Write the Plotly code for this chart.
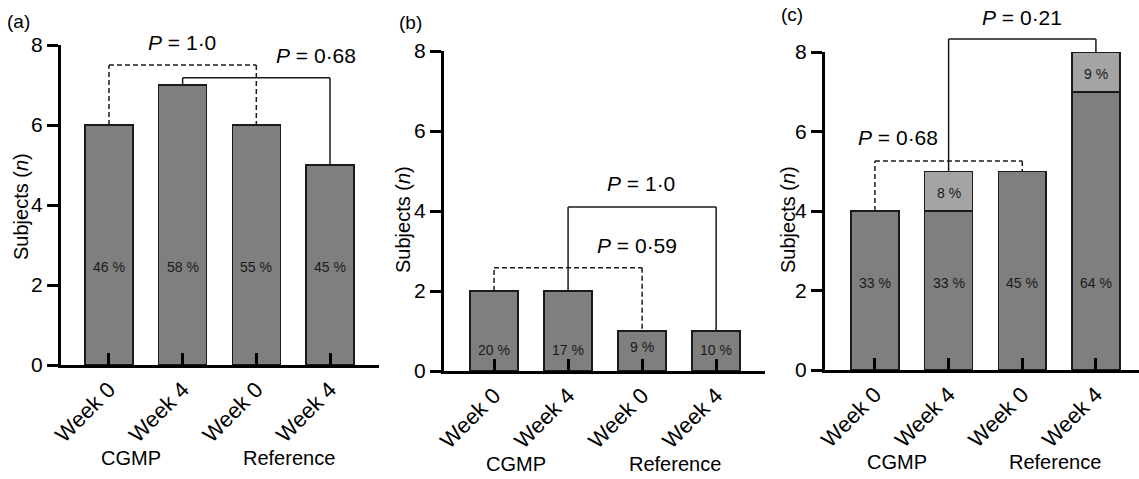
import plotly.graph_objects as go

W, H = 1139, 479
FONT = "Liberation Sans, Arial, sans-serif"

# ---------------- data ----------------
weeks = ["Week 0", "Week 4", "Week 0", "Week 4"]
groups = ["CGMP", "Reference"]
xpos = [0, 1, 2, 3]

a_vals = [6, 7, 6, 5]
a_pct = ["46 %", "58 %", "55 %", "45 %"]

b_vals = [2, 2, 1, 1]
b_pct = ["20 %", "17 %", "9 %", "10 %"]

c_dark = [4, 4, 5, 7]
c_light = [0, 1, 0, 1]
c_dark_pct = ["33 %", "33 %", "45 %", "64 %"]
c_light_pct = ["", "8 %", "", "9 %"]

# comparisons: (bar i, bar j, P label, dashed?)
a_comp = [(0, 2, "1·0", True), (1, 3, "0·68", False)]
b_comp = [(0, 2, "0·59", True), (1, 3, "1·0", False)]
c_comp = [(0, 2, "0·68", True), (1, 3, "0·21", False)]

# ---------------- layout helpers ----------------
YMAX = 8
DARK = "#7f7f7f"
LIGHT = "#a4a4a4"
EDGE = "#1a1a1a"


def px_dom(x0, x1):
    return [x0 / W, x1 / W]


def py_dom(y_bottom, y_top):
    return [1 - y_bottom / H, 1 - y_top / H]


panels = [
    dict(label="(a)", xd=px_dom(61, 379), yd=py_dom(365, 45), xr=[-0.651, 3.665],
         lab_xy=(18, 22), ytitle_xy=(21, 207)),
    dict(label="(b)", xd=px_dom(444, 765), yd=py_dom(371, 51), xr=[-0.676, 3.66],
         lab_xy=(410, 23), ytitle_xy=(403, 220)),
    dict(label="(c)", xd=px_dom(825, 1139), yd=py_dom(370, 52), xr=[-0.678, 3.585],
         lab_xy=(792, 15), ytitle_xy=(788, 220)),
]

fig = go.Figure()

bar_common = dict(width=0.65, marker=dict(line=dict(color=EDGE, width=1.5)),
                  showlegend=False, hoverinfo="skip")

fig.add_trace(go.Bar(x=xpos, y=a_vals, marker_color=DARK, xaxis="x", yaxis="y", **bar_common))
fig.add_trace(go.Bar(x=xpos, y=b_vals, marker_color=DARK, xaxis="x2", yaxis="y2", **bar_common))
fig.add_trace(go.Bar(x=xpos, y=c_dark, marker_color=DARK, xaxis="x3", yaxis="y3", **bar_common))
fig.add_trace(go.Bar(x=xpos, y=c_light, marker_color=LIGHT, xaxis="x3", yaxis="y3", **bar_common))

layout = dict(
    width=W, height=H, autosize=False,
    margin=dict(l=0, r=0, t=0, b=0, pad=0),
    paper_bgcolor="white", plot_bgcolor="white",
    barmode="stack",
    font=dict(family=FONT, size=20, color="black"),
    showlegend=False,
    hovermode=False,
)

annotations = []
shapes = []

for i, p in enumerate(panels):
    sfx = "" if i == 0 else str(i + 1)
    xa, ya = "xaxis" + sfx, "yaxis" + sfx
    xr, yr = "x" + sfx, "y" + sfx
    layout[xa] = dict(
        domain=p["xd"], range=p["xr"], anchor=yr, automargin=False,
        tickmode="array", tickvals=xpos, ticktext=weeks, tickangle=-45,
        ticks="inside", ticklen=12, tickwidth=3, tickcolor="black",
        showline=True, linewidth=3, linecolor="black",
        showgrid=False, zeroline=False,
        tickfont=dict(family=FONT, size=22, color="black"),
        fixedrange=True,
    )
    layout[ya] = dict(
        domain=p["yd"], range=[0, YMAX], anchor=xr, automargin=False,
        tickmode="array", tickvals=[0, 2, 4, 6, 8],
        ticks="outside", ticklen=11, tickwidth=3, tickcolor="black",
        showline=True, linewidth=3, linecolor="black",
        showgrid=False, zeroline=False,
        tickfont=dict(family=FONT, size=21, color="black"),
        fixedrange=True,
    )
    annotations.append(dict(text=p["label"], xref="paper", yref="paper",
                            x=p["lab_xy"][0] / W, y=1 - p["lab_xy"][1] / H,
                            xanchor="center", yanchor="middle", showarrow=False,
                            font=dict(family=FONT, size=19, color="black")))
    annotations.append(dict(text="Subjects (<i>n</i>)", xref="paper", yref="paper",
                            x=p["ytitle_xy"][0] / W, y=1 - p["ytitle_xy"][1] / H,
                            xanchor="center", yanchor="middle", showarrow=False, textangle=-90,
                            font=dict(family=FONT, size=20, color="black")))
    for gx, g in zip([0.3, 2.44], groups):
        annotations.append(dict(text=g, xref=xr, yref=yr + " domain", x=gx, y=-0.29,
                                xanchor="center", yanchor="middle", showarrow=False,
                                font=dict(family=FONT, size=20, color="black")))


def pct_labels(xr, yr, texts, ys):
    for x, t, y in zip(xpos, texts, ys):
        if t:
            annotations.append(dict(text=t, xref=xr, yref=yr, x=x, y=y,
                                    xanchor="center", yanchor="middle", showarrow=False,
                                    font=dict(family=FONT, size=14, color="#1a1a1a")))


pct_labels("x", "y", a_pct, [2.45] * 4)
pct_labels("x2", "y2", b_pct, [0.52, 0.52, 0.6, 0.52])
pct_labels("x3", "y3", c_dark_pct, [2.19] * 4)
c_tot = [d + l for d, l in zip(c_dark, c_light)]
pct_labels("x3", "y3", c_light_pct, [d + 0.45 for d in c_dark])


def bracket(xr, yr, tops, comp, level, ptxt_xy):
    i, j, ptxt, dashed = comp
    dash = "5px,3px" if dashed else "solid"
    line = dict(color="#1a1a1a", width=1.5, dash=dash)
    yd = yr + " domain"
    for (x0, y0, x1, y1) in [(xpos[i], tops[i], xpos[i], level),
                             (xpos[i], level, xpos[j], level),
                             (xpos[j], level, xpos[j], tops[j])]:
        shapes.append(dict(type="line", xref=xr, yref=yd,
                           x0=x0, x1=x1, y0=y0 / YMAX, y1=y1 / YMAX, line=line, layer="above"))
    annotations.append(dict(text="<i>P</i> = " + ptxt, xref=xr, yref=yd,
                            x=ptxt_xy[0], y=ptxt_xy[1] / YMAX, xanchor="center", yanchor="middle",
                            showarrow=False, font=dict(family=FONT, size=21, color="black")))


bracket("x", "y", a_vals, a_comp[0], 7.5, (0.99, 8.07))
bracket("x", "y", a_vals, a_comp[1], 7.18, (2.81, 7.75))
bracket("x2", "y2", b_vals, b_comp[0], 2.58, (1.93, 3.15))
bracket("x2", "y2", b_vals, b_comp[1], 4.1, (1.99, 4.7))
bracket("x3", "y3", c_tot, c_comp[0], 5.26, (0.31, 5.86))
bracket("x3", "y3", c_tot, c_comp[1], 8.33, (2.0, 8.88))

layout["annotations"] = annotations
layout["shapes"] = shapes
fig.update_layout(**layout)

fig.write_html(
    "out.html",
    config={"displayModeBar": False, "staticPlot": True},
    post_script="document.body.style.margin='0px';document.body.style.overflow='hidden';",
)
